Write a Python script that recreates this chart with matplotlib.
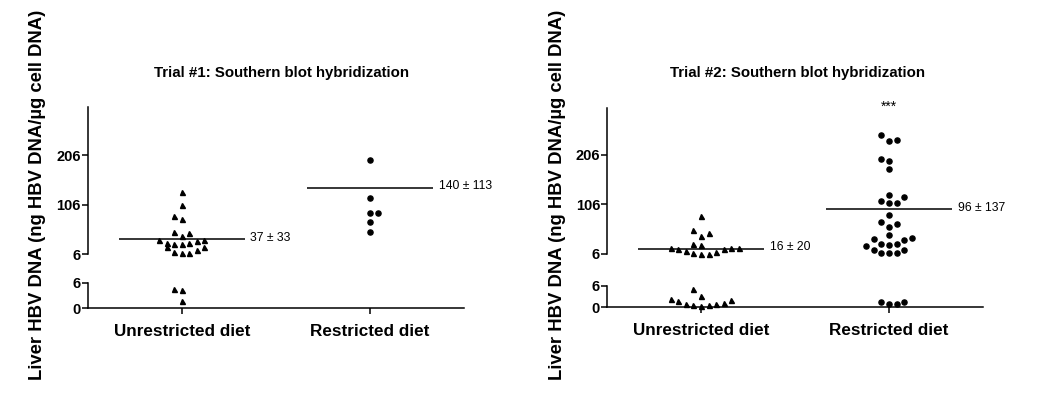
import matplotlib
matplotlib.use("Agg")
import matplotlib.pyplot as plt

plt.rcParams['font.family'] = ['Liberation Sans', 'DejaVu Sans']

groups = ["Unrestricted diet", "Restricted diet"]
titles = ["Trial #1: Southern blot hybridization",
          "Trial #2: Southern blot hybridization"]
ylabel = "Liver HBV DNA (ng HBV DNA/\u00b5g cell DNA)"
upper_ticks = [6, 106, 206]
lower_ticks = [0, 6]

# Trial 1, col = swarm slot of each point
t1_unres = [132, 104.7, 82.5, 77.8, 50.3, 49, 42.9, 34.2, 28.1, 26.1, 26.1,
            29.5, 32.2, 34.2, 20.8, 21.4, 11.4, 9.4, 9.4, 14.7, 4.6, 4.4, 1.8]
t1_unres_col = [0, 0, -1, 0, -1, 1, 0, -3, -2, -1, 0,
                1, 2, 3, -2, 3, -1, 0, 1, 2, -1, 0, 0]
t1_res = [196, 118.8, 88.6, 88.6, 70.5, 51.5]
t1_res_col = [0, 0, 0, 1, 0, 0]
t1_mean = [37, 140]
t1_sd = [33, 113]

# Trial 2
t2_unres = [82.4, 53.3, 47.2, 42.5, 26.3, 24.2, 17.5, 16.1, 10.7, 7, 6.3, 6.3,
            10, 14.8, 16.8, 18.2,
            5.0, 3.1, 2.3, 1.7, 0.9, 0.7, 0.4, 0.7, 0.9, 1.1, 2.0]
t2_unres_col = [0, -1, 1, 0, -1, 0, -4, -3, -2, -1, 0, 1,
                2, 3, 4, 5,
                -1, 0, -4, -3, -2, -1, 0, 1, 2, 3, 4]
t2_res = [246.8, 235, 237, 197.8, 193.7, 178, 125.6, 121, 112.7, 108, 108,
          84.8, 69.3, 65.2, 60.3, 43.3, 35.2, 33.1, 38.6, 20.9, 25, 23, 25,
          14.2, 8, 6.5, 8, 14.2,
          1.4, 0.8, 0.9, 1.4]
t2_res_col = [-1, 0, 1, -1, 0, 0, 0, 2, -1, 0, 1,
              0, -1, 1, 0, 0, -2, 2, 3, -3, -1, 0, 1,
              -2, -1, 0, 1, 2,
              -1, 0, 1, 2]
t2_mean = [16, 96]
t2_sd = [20, 137]

W, H = 1050, 407
fig = plt.figure(figsize=(W / 100, H / 100), dpi=100)

step = 0.04      # horizontal swarm step (category units)
half = 0.335     # half width of the mean line
lw = 1.1


def px_axes(x0, x1, ytop, ybot):
    return fig.add_axes([x0 / W, 1 - ybot / H, (x1 - x0) / W, (ybot - ytop) / H])


def draw_panel(box, titlepos, ylabpos, title, unres, unres_col, res, res_col,
               means, sds, upper_top, stars=False):
    x0, x1, up_top, up_bot, lo_top, lo_bot = box
    up = px_axes(x0, x1, up_top, up_bot)
    lo = px_axes(x0, x1, lo_top, lo_bot)

    for ax in (up, lo):
        ax.set_xlim(0.5, 2.5)
        ax.patch.set_visible(False)
        for s in ('top', 'right'):
            ax.spines[s].set_visible(False)
        for s in ('left', 'bottom'):
            ax.spines[s].set_linewidth(lw)
        ax.tick_params(axis='y', length=4, width=lw, pad=1, labelsize=10.5)
    up.spines['bottom'].set_visible(False)
    up.set_xticks([])
    up.set_ylim(6, upper_top)
    up.set_yticks(upper_ticks)
    lo.set_ylim(0, 6)
    lo.set_yticks(lower_ticks)
    lo.set_xticks([1, 2])
    lo.set_xticklabels(groups)
    lo.tick_params(axis='x', length=4.5, width=lw, pad=7, labelsize=12.3)
    plt.setp(up.get_yticklabels() + lo.get_yticklabels() + lo.get_xticklabels(),
             fontweight='bold')

    for cat, vals, cols, mk, ms in ((1, unres, unres_col, '^', 3.6),
                                    (2, res, res_col, 'o', 3.7)):
        for v, c in zip(vals, cols):
            ax = up if v >= 6 else lo
            ax.plot(cat + c * step, v, marker=mk, ms=ms, color='black',
                    linestyle='none', clip_on=False, zorder=3)

    for cat, m, sd in zip([1, 2], means, sds):
        up.hlines(m, cat - half, cat + half, color='black', lw=1.1)
        up.annotate("%d \u00b1 %d" % (m, sd), (cat + half, m),
                    xytext=(4, 1), textcoords='offset points',
                    ha='left', va='center', fontsize=8.7)

    if stars:
        up.text(2, upper_top + 4, "***", ha='center', va='center',
                fontsize=10, clip_on=False)

    fig.text(titlepos[0] / W, 1 - titlepos[1] / H, title,
             ha='center', va='center', fontsize=10.8, fontweight='bold')
    fig.text(ylabpos[0] / W, 1 - ylabpos[1] / H, ylabel, rotation=90,
             ha='center', va='center', fontsize=13.3, fontweight='bold')


draw_panel((87.7, 464.3, 107, 254.3, 282.7, 308.3), (281.5, 73), (37.5, 195),
           titles[0], t1_unres, t1_unres_col, t1_res, t1_res_col,
           t1_mean, t1_sd, 302.7)
draw_panel((607, 983, 108.3, 253.7, 285.5, 307.3), (797, 73), (558, 195),
           titles[1], t2_unres, t2_unres_col, t2_res, t2_res_col,
           t2_mean, t2_sd, 300.6, stars=True)

fig.savefig("out.png", dpi=100)
